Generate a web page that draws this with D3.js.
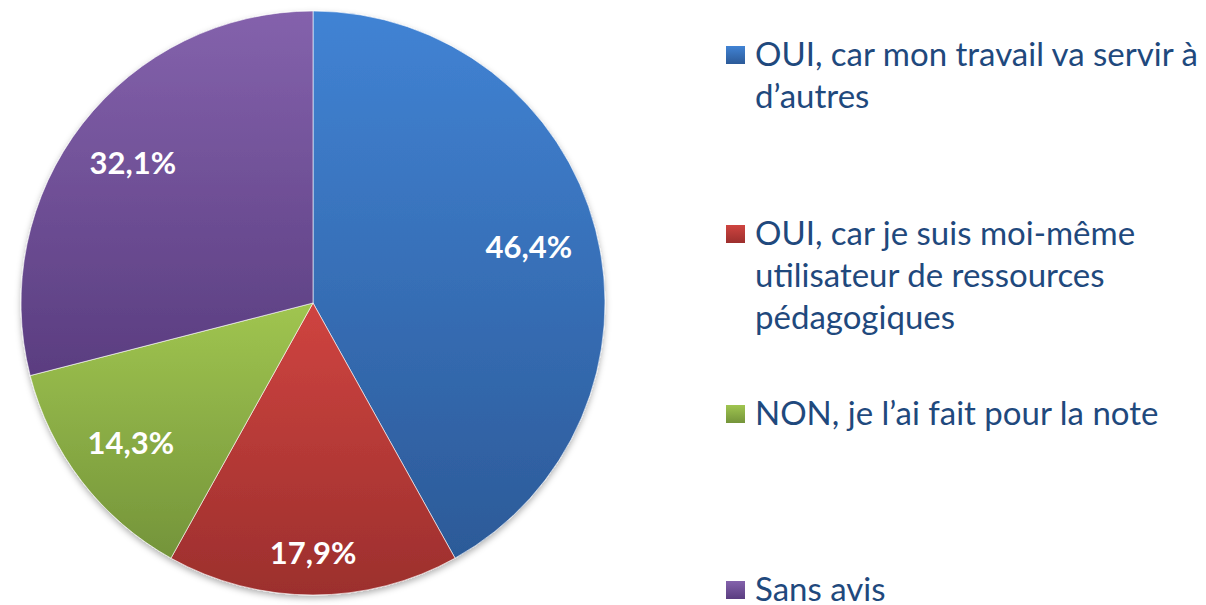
<!DOCTYPE html>
<html>
<head>
<meta charset="utf-8">
<script src="https://cdn.jsdelivr.net/npm/d3@7"></script>
<style>
  body { margin: 0; background: #fff; }
</style>
</head>
<body>
<div id="container"></div>
<script>
var categories = [
    "OUI, car mon travail va servir à d’autres",
    "OUI, car je suis moi-même utilisateur de ressources pédagogiques",
    "NON, je l’ai fait pour la note",
    "Sans avis"
];
var values = [46.4, 17.9, 14.3, 32.1];
var valueLabels = ["46,4%", "17,9%", "14,3%", "32,1%"];
var legendLines = [
    ["OUI, car mon travail va servir à", "d’autres"],
    ["OUI, car je suis moi-même", "utilisateur de ressources", "pédagogiques"],
    ["NON, je l’ai fait pour la note"],
    ["Sans avis"]
];
var topColors = ["#4183d4", "#cf4440", "#a0c550", "#8462ac"];
var bottomColors = ["#2c5a98", "#9c2f2d", "#74943a", "#5a3d80"];

var createChart = function () {
    var width = 1206, height = 605;
    var cx = 313, cy = 303, r = 292;
    // Excel-style label distances per slice
    var labelR = [223, 250, 230, 228];

    var svg = d3.select("#container")
        .append("svg")
        .attr("width", width)
        .attr("height", height);

    var defs = svg.append("defs");
    values.forEach(function (v, i) {
        var g = defs.append("linearGradient")
            .attr("id", "grad" + i)
            .attr("x1", 0).attr("y1", 0)
            .attr("x2", 0).attr("y2", 1);
        g.append("stop").attr("offset", "0%").attr("stop-color", topColors[i]);
        g.append("stop").attr("offset", "100%").attr("stop-color", bottomColors[i]);
    });

    var shadow = defs.append("filter")
        .attr("id", "shadow")
        .attr("x", "-10%").attr("y", "-10%")
        .attr("width", "120%").attr("height", "120%");
    shadow.append("feDropShadow")
        .attr("dx", 0).attr("dy", 3)
        .attr("stdDeviation", 3)
        .attr("flood-color", "#000")
        .attr("flood-opacity", 0.3);

    var pie = d3.pie().sort(null).value(function (d) { return d; });
    var arcs = pie(values);
    var arc = d3.arc().innerRadius(0).outerRadius(r);

    var g = svg.append("g")
        .attr("transform", "translate(" + cx + "," + cy + ")");

    g.append("g")
        .attr("filter", "url(#shadow)")
        .selectAll("path")
        .data(arcs)
        .enter()
        .append("path")
        .attr("d", arc)
        .attr("fill", function (d, i) { return "url(#grad" + i + ")"; })
        .attr("stroke", "rgba(255,255,255,0.6)")
        .attr("stroke-width", 1);

    g.selectAll("text.val")
        .data(arcs)
        .enter()
        .append("text")
        .attr("class", "val")
        .attr("transform", function (d, i) {
            var c = d3.arc().innerRadius(labelR[i]).outerRadius(labelR[i]).centroid(d);
            return "translate(" + c[0] + "," + c[1] + ")";
        })
        .attr("text-anchor", "middle")
        .attr("dy", "0.35em")
        .style("font-family", "Lato, 'Open Sans', sans-serif")
        .style("font-weight", "bold")
        .style("font-size", "31px")
        .style("fill", "#fff")
        .text(function (d, i) { return valueLabels[i]; });

    // legend
    var legendTop = [66, 245, 425, 601];
    var legend = svg.append("g");
    legendLines.forEach(function (lines, i) {
        var item = legend.append("g");
        item.append("rect")
            .attr("x", 726)
            .attr("y", legendTop[i] - 20)
            .attr("width", 19)
            .attr("height", 18)
            .attr("fill", "url(#grad" + i + ")");
        item.append("text")
            .attr("x", 755)
            .attr("y", legendTop[i])
            .style("font-family", "Lato, 'Open Sans', sans-serif")
            .style("font-size", "33px")
            .style("fill", "#1f497d")
            .selectAll("tspan")
            .data(lines)
            .enter()
            .append("tspan")
            .attr("x", 755)
            .attr("dy", function (d, j) { return j === 0 ? 0 : 42; })
            .text(function (d) { return d; });
    });
};

window.onload = createChart;
</script>
</body>
</html>
